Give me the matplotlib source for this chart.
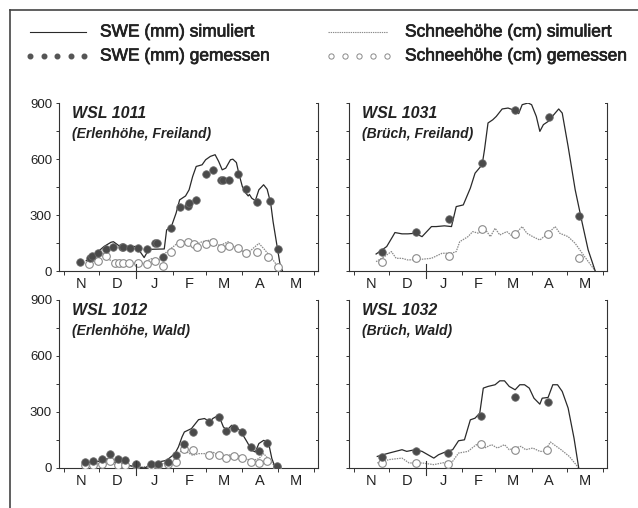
import matplotlib
matplotlib.use("Agg")
import matplotlib.pyplot as plt
from matplotlib.lines import Line2D
import matplotlib.patheffects as pe

plt.rcParams['font.family'] = ['Liberation Sans', 'DejaVu Sans']

# Month boundaries (days since 1 Nov) and labels
month_starts = [0, 30, 61, 92, 120, 151, 181, 212]
month_labels = ['N', 'D', 'J', 'F', 'M', 'A', 'M']

# ---------------- WSL 1011 (Erlenhöhe, Freiland) ----------------
p1_swe_sim_d = [19, 25, 34, 40, 42, 47, 61, 64, 68, 72, 85, 87, 91, 95, 98, 103, 106, 109, 112, 117,
                120, 124, 128, 131, 134, 137, 141, 143, 146, 148, 151, 154, 156, 157, 159, 162, 165,
                169, 172, 175, 177, 180, 183, 185]
p1_swe_sim_v = [55, 82, 131, 154, 157, 134, 131, 109, 72, 116, 118, 220, 238, 310, 381, 402, 435, 506,
                560, 569, 596, 614, 623, 587, 542, 551, 596, 599, 581, 524, 453, 417, 402, 410, 390,
                377, 435, 462, 438, 363, 265, 148, 32, 0]
p1_swe_obs_d = [14, 22, 24, 29, 36, 42, 49, 50, 56, 63, 70, 77, 79, 84, 91, 98, 105, 106, 112, 120,
                126, 133, 135, 140, 147, 154, 163, 174, 181]
p1_swe_obs_v = [50, 72, 80, 98, 116, 131, 131, 131, 123, 125, 118, 152, 152, 77, 233, 342, 349, 363,
                381, 519, 542, 485, 485, 485, 519, 438, 367, 376, 116]
p1_hs_sim_d = [19, 27, 34, 39, 44, 61, 67, 72, 75, 80, 84, 89, 96, 103, 107, 111, 117, 124, 128, 133,
               139, 144, 152, 157, 165, 169, 176, 182, 184]
p1_hs_sim_v = [32, 59, 95, 59, 50, 41, 41, 59, 68, 50, 86, 112, 148, 157, 145, 139, 157, 166, 139, 139,
               157, 130, 104, 104, 148, 121, 68, 14, 0]
p1_hs_obs_d = [21, 29, 36, 43, 47, 50, 55, 63, 70, 77, 84, 91, 98, 105, 110, 113, 120, 126, 133, 140,
               147, 154, 163, 173, 181]
p1_hs_obs_v = [38, 55, 82, 41, 45, 45, 41, 41, 38, 55, 29, 100, 148, 157, 143, 131, 143, 157, 125, 134,
               125, 95, 100, 77, 23]

# ---------------- WSL 1031 (Brüch, Freiland) ----------------
p2_swe_sim_d = [19, 24, 28, 33, 35, 41, 46, 52, 58, 66, 70, 77, 83, 87, 93, 99, 103, 109, 111, 114,
                118, 121, 126, 131, 135, 140, 143, 148, 151, 155, 158, 161, 165, 171, 174, 177, 182,
                188, 194, 199, 205]
p2_swe_sim_v = [91, 113, 131, 184, 206, 199, 199, 202, 184, 238, 238, 242, 238, 345, 354, 444, 524,
                569, 649, 793, 810, 828, 868, 873, 864, 843, 891, 900, 891, 828, 748, 784, 801, 846,
                868, 846, 667, 435, 256, 113, 0]
p2_swe_obs_d = [24, 53, 81, 109, 137, 166, 191]
p2_swe_obs_v = [104, 211, 277, 581, 860, 825, 292]
p2_hs_sim_d = [19, 26, 32, 36, 41, 46, 58, 66, 75, 83, 87, 90, 97, 101, 106, 111, 116, 120, 124, 130,
               135, 143, 147, 152, 158, 165, 171, 175, 182, 188, 196, 205]
p2_hs_sim_v = [50, 77, 104, 68, 68, 59, 63, 68, 95, 95, 104, 157, 184, 211, 202, 229, 184, 229, 193,
               211, 184, 238, 202, 184, 166, 202, 238, 202, 184, 148, 77, 0]
p2_hs_obs_d = [24, 53, 81, 109, 137, 165, 191]
p2_hs_obs_v = [47, 68, 82, 224, 199, 199, 68]

# ---------------- WSL 1012 (Erlenhöhe, Wald) ----------------
p3_swe_sim_d = [16, 23, 30, 37, 41, 49, 55, 61, 68, 74, 80, 87, 94, 97, 100, 102, 108, 114, 119, 124,
                126, 131, 135, 138, 142, 146, 150, 155, 159, 162, 165, 169, 173, 176, 179]
p3_swe_sim_v = [23, 32, 36, 50, 32, 23, 14, 5, 0, 14, 32, 41, 77, 113, 166, 193, 211, 259, 265, 247,
                265, 283, 220, 202, 229, 220, 193, 140, 95, 86, 131, 148, 140, 50, 0]
p3_swe_obs_d = [18, 25, 32, 39, 46, 52, 61, 74, 80, 88, 95, 102, 109, 123, 131, 137, 144, 151, 158,
                165, 172, 180]
p3_swe_obs_v = [32, 36, 47, 77, 47, 45, 23, 23, 20, 32, 68, 131, 193, 247, 274, 199, 216, 193, 113,
                91, 136, 9]
p3_hs_sim_d = [18, 25, 32, 37, 43, 50, 58, 64, 70, 77, 84, 91, 96, 100, 104, 109, 114, 119, 126, 133,
               139, 145, 152, 160, 165, 169, 173, 177, 179]
p3_hs_sim_v = [14, 18, 27, 36, 18, 14, 10, 5, 8, 14, 23, 27, 50, 104, 86, 68, 77, 77, 86, 59, 68, 77,
               50, 41, 50, 77, 50, 20, 0]
p3_hs_obs_d = [18, 25, 32, 39, 46, 52, 61, 74, 80, 88, 95, 102, 109, 123, 131, 137, 144, 151, 158,
               165, 172, 180]
p3_hs_obs_v = [18, 14, 23, 36, 14, 14, 14, 11, 14, 23, 32, 104, 95, 72, 72, 55, 64, 54, 32, 29, 36, 0]

# ---------------- WSL 1032 (Brüch, Wald) ----------------
p4_swe_sim_d = [20, 30, 41, 45, 52, 58, 63, 68, 72, 79, 84, 89, 94, 99, 103, 107, 110, 114, 120, 124,
                128, 132, 137, 141, 145, 149, 153, 158, 160, 165, 169, 173, 177, 182, 187, 191]
p4_swe_sim_v = [62, 80, 98, 89, 98, 89, 71, 53, 71, 89, 98, 146, 151, 258, 267, 294, 428, 437, 446,
                467, 467, 437, 419, 446, 446, 428, 374, 342, 374, 378, 446, 446, 410, 321, 160, 0]
p4_swe_obs_d = [24, 53, 80, 108, 137, 165]
p4_swe_obs_v = [59, 93, 80, 276, 383, 351]
p4_hs_sim_d = [20, 30, 41, 47, 58, 68, 75, 84, 89, 97, 104, 111, 117, 122, 128, 132, 137, 142, 146,
               152, 158, 162, 167, 170, 176, 183, 191]
p4_hs_sim_v = [27, 45, 53, 27, 27, 18, 27, 36, 80, 89, 125, 107, 125, 107, 125, 98, 107, 116, 98, 107,
               89, 89, 139, 125, 98, 62, 0]
p4_hs_obs_d = [24, 53, 80, 108, 137, 164]
p4_hs_obs_v = [27, 27, 21, 128, 94, 94]

panels = [
    ("WSL 1011", "(Erlenhöhe, Freiland)", p1_swe_sim_d, p1_swe_sim_v, p1_swe_obs_d, p1_swe_obs_v,
     p1_hs_sim_d, p1_hs_sim_v, p1_hs_obs_d, p1_hs_obs_v),
    ("WSL 1031", "(Brüch, Freiland)", p2_swe_sim_d, p2_swe_sim_v, p2_swe_obs_d, p2_swe_obs_v,
     p2_hs_sim_d, p2_hs_sim_v, p2_hs_obs_d, p2_hs_obs_v),
    ("WSL 1012", "(Erlenhöhe, Wald)", p3_swe_sim_d, p3_swe_sim_v, p3_swe_obs_d, p3_swe_obs_v,
     p3_hs_sim_d, p3_hs_sim_v, p3_hs_obs_d, p3_hs_obs_v),
    ("WSL 1032", "(Brüch, Wald)", p4_swe_sim_d, p4_swe_sim_v, p4_swe_obs_d, p4_swe_obs_v,
     p4_hs_sim_d, p4_hs_sim_v, p4_hs_obs_d, p4_hs_obs_v),
]

W, H = 638, 508
fig = plt.figure(figsize=(W / 100, H / 100), dpi=100)
fig.patch.set_facecolor('white')

# axes rectangles in pixels: (left, top, right, bottom)
rects = [(59, 103, 318, 271), (349, 103, 607, 271), (59, 300, 318, 468), (349, 300, 607, 468)]

dark = '#333333'
swe_col = '#2a2a2a'
hs_col = '#8a8a8a'
obs_fill = '#4a4a4a'

for i, (rect, pdata) in enumerate(zip(rects, panels)):
    l, t, r, b = rect
    ax = fig.add_axes([l / W, (H - b) / H, (r - l) / W, (b - t) / H])
    (title, sub, ssd, ssv, sod, sov, hsd, hsv, hod, hov) = pdata
    ax.plot(hsd, hsv, color=hs_col, lw=0.9, ls=(0, (1.2, 0.8)), zorder=2)
    ax.plot(ssd, ssv, color=swe_col, lw=0.9, zorder=3)
    ax.plot(hod, hov, ls='none', marker='o', ms=5.5, mfc='white', mec='#8a8a8a', mew=0.8, zorder=4)
    ax.plot(sod, sov, ls='none', marker='o', ms=5.4, mfc=obs_fill, mec='#6a6a6a', mew=0.6, zorder=5)
    ax.set_xlim(-4, 215)
    ax.set_ylim(0, 900)
    ax.spines['top'].set_visible(False)
    for s in ('left', 'right', 'bottom'):
        ax.spines[s].set_color(dark)
        ax.spines[s].set_linewidth(0.8)
    # y ticks
    ax.set_yticks([0, 300, 600, 900])
    ax.set_yticks([150, 450, 750], minor=True)
    ax.tick_params(axis='y', which='both', direction='out', length=2.5, width=0.7, color=dark,
                   left=True, right=False, labelsize=9.5, labelcolor='#222222', pad=2.5)
    if i in (1, 3):
        ax.tick_params(axis='y', labelleft=False)
    # right spine ticks pointing inward (leftward)
    for yv in [150, 300, 450, 600, 750, 900]:
        ax.plot([213.0, 215], [yv, yv], color=dark, lw=0.7, clip_on=False, zorder=6)
    # x ticks at month boundaries
    ax.set_xticks(month_starts)
    ax.set_xticklabels([])
    ax.tick_params(axis='x', which='major', direction='out', length=3, width=0.7, color=dark)
    mids = [(month_starts[k] + month_starts[k + 1]) / 2 for k in range(7)]
    ax.set_xticks(mids, minor=True)
    ax.set_xticklabels(month_labels, minor=True)
    ax.tick_params(axis='x', which='minor', length=0, labelsize=10.5, labelcolor='#222222', pad=4)
    # year boundary (1 Jan) tick, longer
    ax.plot([61, 61], [-38, 38], color=dark, lw=0.8, clip_on=False, zorder=6)
    ax.text(0.05, 0.982, title, transform=ax.transAxes, fontsize=11.5, fontweight='bold',
            fontstyle='italic', color='#222222', va='top', ha='left')
    ax.text(0.05, 0.858, sub, transform=ax.transAxes, fontsize=10, fontweight='bold',
            fontstyle='italic', color='#222222', va='top', ha='left')

# ---------------- legend ----------------
def fx(px):
    return px / W

def fy(py):
    return (H - py) / H

row1, row2 = 32, 56
fig.add_artist(Line2D([fx(30), fx(86)], [fy(row1), fy(row1)], color=swe_col, lw=0.8))
fig.add_artist(Line2D([fx(30 + k * 13.5) for k in range(5)], [fy(row2)] * 5, ls='none', marker='o',
                      ms=3.3, mfc='#555555', mec='#555555'))
fig.add_artist(Line2D([fx(328), fx(388)], [fy(row1), fy(row1)], color=hs_col, lw=0.8,
                      ls=(0, (1.2, 0.8))))
fig.add_artist(Line2D([fx(331 + k * 14) for k in range(5)], [fy(row2)] * 5, ls='none', marker='o',
                      ms=3.8, mfc='white', mec='#8a8a8a', mew=0.7))
leg_fs = 12.5
stroke = [pe.withStroke(linewidth=0.5, foreground='#222222')]
for (x, y, s) in [(100, row1, "SWE (mm) simuliert"), (100, row2, "SWE (mm) gemessen"),
                  (405, row1, "Schneehöhe (cm) simuliert"), (405, row2, "Schneehöhe (cm) gemessen")]:
    fig.text(fx(x), fy(y), s, fontsize=leg_fs, va='center', ha='left', color='#222222',
             path_effects=stroke)

# frame (left and top edges)
fig.add_artist(Line2D([fx(9.5), fx(9.5)], [fy(9.5), fy(510)], color='#444444', lw=1.2))
fig.add_artist(Line2D([fx(9.5), fx(640)], [fy(9.5), fy(9.5)], color='#444444', lw=1.2))

fig.savefig('out.png', dpi=100, facecolor='white')
